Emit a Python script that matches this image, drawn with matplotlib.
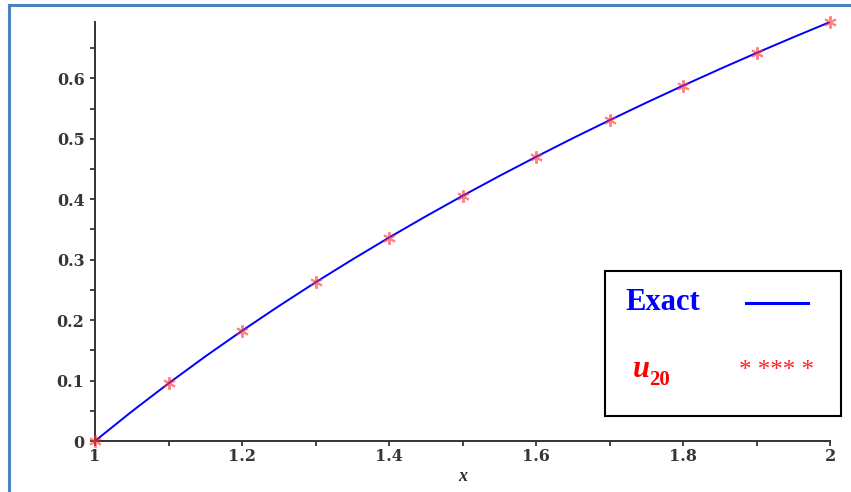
import matplotlib
matplotlib.use("Agg")
import matplotlib.pyplot as plt
from matplotlib.lines import Line2D
from matplotlib.patches import Rectangle


# Exact solution
EXACT_X = [1.00, 1.05, 1.10, 1.15, 1.20, 1.25, 1.30, 1.35, 1.40, 1.45, 1.50,
           1.55, 1.60, 1.65, 1.70, 1.75, 1.80, 1.85, 1.90, 1.95, 2.00]
EXACT_Y = [0.0, 0.0488, 0.0953, 0.1398, 0.1823, 0.2231, 0.2624, 0.3001,
           0.3365, 0.3716, 0.4055, 0.4383, 0.4700, 0.5008, 0.5306, 0.5596,
           0.5878, 0.6152, 0.6419, 0.6678, 0.6931]

# u_20 approximation (red asterisks)
U20_X = [1.0, 1.1, 1.2, 1.3, 1.4, 1.5, 1.6, 1.7, 1.8, 1.9, 2.0]
U20_Y = [0.0, 0.0953, 0.1823, 0.2624, 0.3365, 0.4055, 0.4700, 0.5306,
         0.5878, 0.6419, 0.6931]

X_TICKS = [1, 1.2, 1.4, 1.6, 1.8, 2]
X_TICK_LABELS = ["1", "1.2", "1.4", "1.6", "1.8", "2"]
Y_TICKS = [0, 0.1, 0.2, 0.3, 0.4, 0.5, 0.6]
Y_TICK_LABELS = ["0", "0.1", "0.2", "0.3", "0.4", "0.5", "0.6"]

W, H = 851, 492


def px(x, y):
    # pixel coords (from top-left) -> figure fraction
    return x / W, 1 - y / H


fig = plt.figure(figsize=(W / 100, H / 100), dpi=100)
ax = fig.add_axes([95 / W, (H - 441) / H, (830 - 95) / W, (441 - 22) / H])

ax.plot(EXACT_X, EXACT_Y, color="#0000ff", lw=1.4, zorder=2)
ax.plot(U20_X, U20_Y, linestyle="none", marker=(6, 2, 0), markersize=9,
        markeredgewidth=1.4, color="#ff3030", alpha=0.6, clip_on=False,
        zorder=3)

ax.set_xlim(1, 2)
ax.set_ylim(0, 0.6931)
for side in ["top", "right"]:
    ax.spines[side].set_visible(False)
for side in ["left", "bottom"]:
    ax.spines[side].set_color("#333333")
    ax.spines[side].set_linewidth(1.4)

tick_font = dict(family="DejaVu Serif", size=11.5, weight="bold",
                 color="#3a3530")
ax.set_xticks(X_TICKS)
ax.set_xticklabels(X_TICK_LABELS, **tick_font)
ax.set_xticks([1.1, 1.3, 1.5, 1.7, 1.9], minor=True)
ax.set_yticks(Y_TICKS)
ax.set_yticklabels(Y_TICK_LABELS, **tick_font)
ax.set_yticks([0.05, 0.15, 0.25, 0.35, 0.45, 0.55, 0.65], minor=True)
ax.tick_params(axis="x", which="both", direction="out", length=3.5,
               width=1.2, color="#222222", pad=1.5)
ax.tick_params(axis="y", which="both", direction="out", length=3.5,
               width=1.2, color="#222222", pad=4)
ax.set_xlabel("x", family="Liberation Serif", style="italic", weight="bold",
              size=13, color="#2b2b2b", labelpad=2)

# custom legend box
x0, y0 = px(605, 416)
x1, y1 = px(841, 271)
fig.patches.append(Rectangle((x0, y0), x1 - x0, y1 - y0, transform=fig.transFigure,
                             facecolor="white", edgecolor="black", lw=1.5,
                             zorder=5))
fig.text(*px(625, 302), "Exact", family="Liberation Serif", weight="bold",
         size=22, color="#0000ff", va="center", ha="left", zorder=6)
lx0, ly = px(746, 303)
lx1, _ = px(808, 303)
fig.add_artist(Line2D([lx0, lx1], [ly, ly], color="#0000ff", lw=2.2,
                      transform=fig.transFigure, zorder=6))
fig.text(*px(633, 377), "u", family="Liberation Serif", weight="bold",
         style="italic", size=22, color="#ff0000", va="baseline", ha="left",
         zorder=6)
fig.text(*px(649, 385), "20", family="Liberation Serif", weight="bold",
         size=15, color="#ff0000", va="baseline", ha="left", zorder=6)
fig.text(*px(739, 371), "* *** *", family="Liberation Serif", size=18,
         color="#ff2020", va="center", ha="left", zorder=6)

# page frame (blue border of the figure picture)
frame = "#4f81bd"
fig.add_artist(Line2D([9 / W, 9 / W], [0, 1 - 5 / H], color=frame, lw=2.2,
                      transform=fig.transFigure))
fig.add_artist(Line2D([9 / W, 1], [1 - 5 / H, 1 - 5 / H], color=frame, lw=2.2,
                      transform=fig.transFigure))

fig.savefig("out.png", dpi=100)
